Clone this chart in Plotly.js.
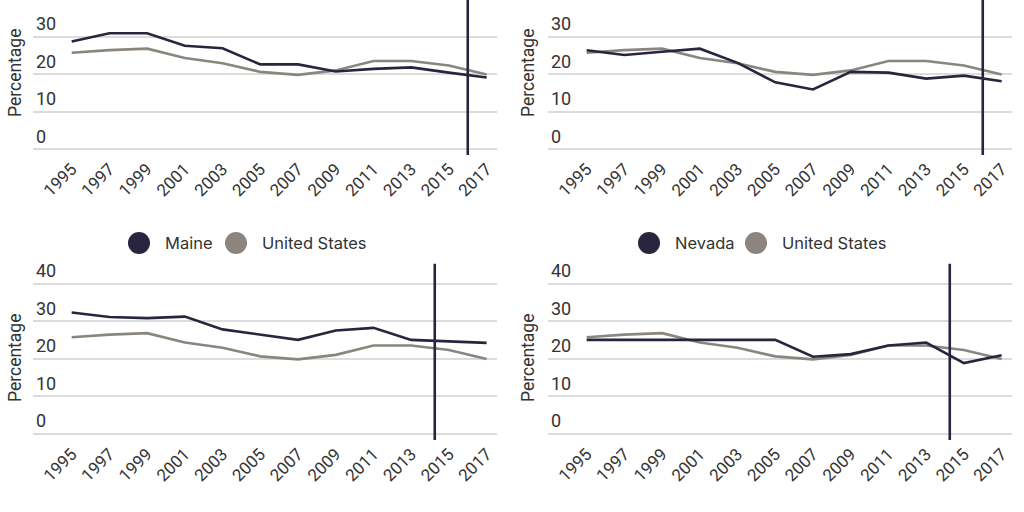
<!DOCTYPE html>
<html>
<head>
<meta charset="utf-8">
<script src="https://cdn.plot.ly/plotly-3.0.1.min.js"></script>
<style>html,body{margin:0;padding:0;background:#fff;}#chart{width:1024px;height:512px;}</style>
</head>
<body>
<div id="chart"></div>
<script>
// ---- data ----
const years = [1995, 1997, 1999, 2001, 2003, 2005, 2007, 2009, 2011, 2013, 2015, 2017];
const unitedStates = [25.7, 26.4, 26.8, 24.3, 22.9, 20.6, 19.8, 21.0, 23.5, 23.5, 22.3, 19.9];
const maineTop = [28.7, 30.9, 30.9, 27.6, 26.9, 22.6, 22.6, 20.7, 21.4, 21.8, 20.4, 19.1];
const nevadaTop = [26.4, 25.1, 26.0, 26.8, 23.0, 17.8, 15.9, 20.6, 20.4, 18.8, 19.6, 18.1];
const maineBottom = [32.3, 31.1, 30.8, 31.2, 27.8, 26.4, 25.0, 27.5, 28.2, 25.0, 24.6, 24.2];
const nevadaBottom = [25.0, 25.0, 25.0, 25.0, 25.0, 25.0, 20.5, 21.2, 23.5, 24.3, 18.8, 20.9];
const markerYears = [2016, 2016, 2014.25, 2014.25];
const tickYears = [1995, 1997, 1999, 2001, 2003, 2005, 2007, 2009, 2011, 2013, 2015, 2017];
const tickPct = [0, 10, 20, 30, 40];
const legendLeft = ["Maine", "United States"];
const legendRight = ["Nevada", "United States"];
const yTitle = "Percentage";

// ---- style ----
const DARK = "#29253f";
const GRAY = "#8b857e";
const TXT = "#333333";
const FONT = "Inter, 'Open Sans', sans-serif";
const AXFONT = "Roboto, 'Liberation Sans', sans-serif";

const panels = [
  {state: maineTop, xa: "x", ya: "y"},
  {state: nevadaTop, xa: "x2", ya: "y2"},
  {state: maineBottom, xa: "x3", ya: "y3"},
  {state: nevadaBottom, xa: "x4", ya: "y4"}
];

const traces = [];
panels.forEach(p => {
  traces.push({x: years, y: unitedStates, xaxis: p.xa, yaxis: p.ya, mode: "lines",
    line: {color: GRAY, width: 2.6}, showlegend: false, hoverinfo: "skip"});
  traces.push({x: years, y: p.state, xaxis: p.xa, yaxis: p.ya, mode: "lines",
    line: {color: DARK, width: 2.6}, showlegend: false, hoverinfo: "skip"});
});

function xax(dom, anchor) {
  return {domain: dom, anchor: anchor, range: [1992.95, 2017.55], tickmode: "array",
    tickvals: tickYears, ticktext: tickYears.map(String), tickangle: -45,
    showgrid: false, zeroline: false, showline: false, ticks: "",
    tickfont: {family: AXFONT, size: 17, color: TXT}, fixedrange: true};
}
function yax(dom, anchor, range) {
  return {domain: dom, anchor: anchor, range: range, tickmode: "array",
    tickvals: tickPct, ticktext: tickPct.map(String), ticklabelposition: "inside top",
    showgrid: true, gridcolor: "#dcdcdc", gridwidth: 2, zeroline: false, showline: false, ticks: "",
    tickfont: {family: AXFONT, size: 18, color: TXT},
    fixedrange: true};
}

const W = 1024, H = 512;
const xL = [33 / W, 497 / W], xR = [548 / W, 1012 / W];
const yT = [1 - 155 / H, 1], yB = [1 - 440 / H, 1 - 246 / H];
const rangeTop = [-1.6, 39.8];
const rangeBottom = [-1.7, -1.7 + 194 / 3.75];
const lineSpanTop = [-1.6, 39.8];
const lineSpanBottom = [-1.7, 45.3];

const shapes = [];
const annotations = [];
const axesPairs = [["x", "y"], ["x2", "y2"], ["x3", "y3"], ["x4", "y4"]];
axesPairs.forEach((a, i) => {
  const span = i < 2 ? lineSpanTop : lineSpanBottom;
  shapes.push({type: "line", xref: a[0], yref: a[1], x0: markerYears[i], x1: markerYears[i],
    y0: span[0], y1: span[1], line: {color: DARK, width: 2.6}});
});

// y-axis titles
[[15, 73], [528, 73], [15, 358], [528, 358]].forEach(([px, py]) => {
  annotations.push({xref: "paper", yref: "paper", x: px / W, y: 1 - py / H, xanchor: "center", yanchor: "middle",
    text: yTitle, textangle: -90, showarrow: false, font: {family: AXFONT, size: 17.5, color: TXT}});
});

// legends (between rows)
function legend(names, cx1, tx1, cx2, tx2) {
  const cy = 1 - 243 / H;
  [[cx1, DARK, tx1, names[0]], [cx2, GRAY, tx2, names[1]]].forEach(([cx, col, tx, name]) => {
    shapes.push({type: "circle", xref: "paper", yref: "paper", xsizemode: "pixel", ysizemode: "pixel",
      xanchor: cx / W, yanchor: cy, x0: -11, x1: 11, y0: -11, y1: 11,
      fillcolor: col, line: {width: 0}});
    annotations.push({xref: "paper", yref: "paper", x: tx / W, y: cy, xanchor: "left", yanchor: "middle",
      text: name, showarrow: false, font: {family: FONT, size: 16.5, color: TXT}});
  });
}
legend(legendLeft, 139, 163, 236, 260);
legend(legendRight, 649, 673, 756, 780);

const layout = {
  width: W, height: H, margin: {l: 0, r: 0, t: 0, b: 0},
  paper_bgcolor: "#fff", plot_bgcolor: "#fff", showlegend: false,
  font: {family: FONT, color: TXT},
  xaxis: xax(xL, "y"), yaxis: yax(yT, "x", rangeTop),
  xaxis2: xax(xR, "y2"), yaxis2: yax(yT, "x2", rangeTop),
  xaxis3: xax(xL, "y3"), yaxis3: yax(yB, "x3", rangeBottom),
  xaxis4: xax(xR, "y4"), yaxis4: yax(yB, "x4", rangeBottom),
  shapes: shapes, annotations: annotations
};

Plotly.newPlot("chart", traces, layout, {displayModeBar: false, staticPlot: true});
</script>
</body>
</html>
